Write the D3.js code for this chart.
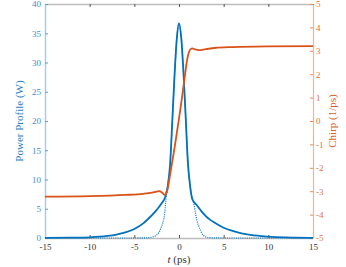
<!DOCTYPE html>
<html>
<head>
<meta charset="utf-8">
<script src="https://cdn.jsdelivr.net/npm/d3@7"></script>
<style>
  body { margin: 0; background: #fff; }
  svg, svg text { font-family: "Liberation Serif", "DejaVu Serif", serif; }
</style>
</head>
<body>
<div id="chart"></div>
<script>
const width = 346, height = 267;
const margin = {left: 45, right: 33, top: 4, bottom: 29};
const serif = "'Liberation Serif', 'DejaVu Serif', serif";

// solid power profile (W)
const tSolid = [-15, -12, -10, -8, -7, -6, -5, -4, -3.5, -3, -2.5, -2, -1.5, -1.25, -1, -0.75, -0.5, -0.25, 0,
                0.25, 0.5, 0.75, 1, 1.25, 1.5, 2, 2.5, 3, 3.5, 4, 5, 6, 7, 8, 10, 12, 15];
const pSolid = [0.01, 0.05, 0.12, 0.35, 0.58, 0.95, 1.55, 2.5, 3.2, 3.95, 4.8, 5.8, 7.2, 9.0, 12.5, 20.0, 27.8, 34.0, 36.7,
                34.2, 28.3, 20.6, 12.8, 8.8, 6.6, 5.6, 4.6, 3.75, 3.1, 2.6, 1.75, 1.2, 0.8, 0.52, 0.23, 0.1, 0.03];

// dotted power profile (W)
const tDot = [-15, -6, -4, -3.5, -3, -2.5, -2, -1.6, -1.4, -1.25, -1, -0.75, -0.5, -0.25, 0,
              0.25, 0.5, 0.75, 1, 1.25, 1.5, 1.6, 2, 2.2, 2.7, 3, 3.5, 4, 6, 15];
const pDot = [0, 0, 0.01, 0.04, 0.15, 0.5, 1.8, 4.3, 7.5, 9.0, 12.5, 20.0, 27.8, 34.0, 36.7,
              34.2, 28.3, 20.6, 12.8, 8.8, 6.6, 6.2, 3.0, 2.1, 0.5, 0.2, 0.05, 0.01, 0, 0];

// chirp (1/ps)
const tChirp = [-15, -10, -6, -4, -3, -2.5, -2.2, -1.9, -1.6, -1.45, -1.3, -1, -0.5, -0.2, 0, 0.3, 0.67, 0.9, 1.1, 1.3,
                1.5, 1.8, 2.2, 3, 4, 6, 10, 15];
const chirp = [-3.23, -3.21, -3.16, -3.11, -3.06, -3.02, -3.0, -3.06, -3.16, -3.1, -2.95, -2.3, -1.15, -0.4, 0.1, 0.9, 1.97, 2.6, 2.93, 3.07,
               3.1, 3.06, 3.03, 3.07, 3.12, 3.16, 3.19, 3.2];

const xTicks = [-15, -10, -5, 0, 5, 10, 15];
const yLTicks = [0, 5, 10, 15, 20, 25, 30, 35, 40];
const yRTicks = [-5, -4, -3, -2, -1, 0, 1, 2, 3, 4, 5];

const blue = "#0072BD", orange = "#D95319";
const plain = d => String(d);

const x = d3.scaleLinear().domain([-15, 15]).range([margin.left, width - margin.right]);
const yL = d3.scaleLinear().domain([0, 40]).range([height - margin.bottom, margin.top]);
const yR = d3.scaleLinear().domain([-5, 5]).range([height - margin.bottom, margin.top]);

const svg = d3.select("#chart").append("svg")
    .attr("width", width)
    .attr("height", height);

// axes
const gBottom = svg.append("g")
    .attr("transform", "translate(0," + (height - margin.bottom) + ")")
    .call(d3.axisBottom(x).tickValues(xTicks).tickSizeInner(-3).tickSizeOuter(0).tickPadding(6)
        .tickFormat(plain));
gBottom.attr("font-family", serif);
gBottom.select(".domain").attr("stroke", "#bdbdbd").attr("stroke-width", 1.5);
gBottom.selectAll(".tick line").attr("stroke", "#555");
gBottom.selectAll("text").attr("fill", "#333").style("font-size", "9px");

const gTop = svg.append("g")
    .attr("transform", "translate(0," + margin.top + ")")
    .call(d3.axisTop(x).tickValues(xTicks).tickSizeInner(-3).tickSizeOuter(0).tickFormat(""));
gTop.select(".domain").attr("stroke", "#bdbdbd").attr("stroke-width", 1.5);
gTop.selectAll(".tick line").attr("stroke", "#555");

const gLeft = svg.append("g")
    .attr("transform", "translate(" + margin.left + ",0)")
    .call(d3.axisLeft(yL).tickValues(yLTicks).tickSizeInner(-3).tickSizeOuter(0).tickPadding(4)
        .tickFormat(plain));
gLeft.attr("font-family", serif);
gLeft.select(".domain").attr("stroke", "#a9cbe8").attr("stroke-width", 1.5);
gLeft.selectAll(".tick line").attr("stroke", "#5a9fd4");
gLeft.selectAll("text").attr("fill", "#3d8ccb").style("font-size", "9px");

const gRight = svg.append("g")
    .attr("transform", "translate(" + (width - margin.right) + ",0)")
    .call(d3.axisRight(yR).tickValues(yRTicks).tickSizeInner(-3).tickSizeOuter(0).tickPadding(3)
        .tickFormat(plain));
gRight.attr("font-family", serif);
gRight.select(".domain").attr("stroke", "#f0b594").attr("stroke-width", 1.2);
gRight.selectAll(".tick line").attr("stroke", "#e58a5e");
gRight.selectAll("text").attr("fill", "#e0703e").style("font-size", "9px");

// lines
const lineSolid = d3.line().x((d, i) => x(tSolid[i])).y(d => yL(d)).curve(d3.curveMonotoneX);
const lineDot = d3.line().x((d, i) => x(tDot[i])).y(d => yL(d)).curve(d3.curveMonotoneX);
const lineChirp = d3.line().x((d, i) => x(tChirp[i])).y(d => yR(d)).curve(d3.curveMonotoneX);

svg.append("path")
    .attr("d", lineDot(pDot))
    .attr("fill", "none")
    .attr("stroke", blue)
    .attr("stroke-width", 1.2)
    .attr("stroke-dasharray", "1,1.2");

svg.append("path")
    .attr("d", lineSolid(pSolid))
    .attr("fill", "none")
    .attr("stroke", blue)
    .attr("stroke-width", 1.8);

svg.append("path")
    .attr("d", lineChirp(chirp))
    .attr("fill", "none")
    .attr("stroke", orange)
    .attr("stroke-width", 1.8);

// labels
svg.append("text")
    .attr("transform", "translate(23," + yL(20) + ") rotate(-90)")
    .attr("text-anchor", "middle")
    .attr("fill", "#2a7fc2")
    .style("font-size", "11px")
    .text("Power Profile (W)");

svg.append("text")
    .attr("transform", "translate(336," + yR(0) + ") rotate(-90)")
    .attr("text-anchor", "middle")
    .attr("fill", "#db5f2a")
    .style("font-size", "11px")
    .text("Chirp (1/ps)");

const xl = svg.append("text")
    .attr("x", x(0))
    .attr("y", 263)
    .attr("text-anchor", "middle")
    .attr("fill", "#333")
    .style("font-size", "11px");
xl.append("tspan").style("font-style", "italic").text("t");
xl.append("tspan").text(" (ps)");
</script>
</body>
</html>
